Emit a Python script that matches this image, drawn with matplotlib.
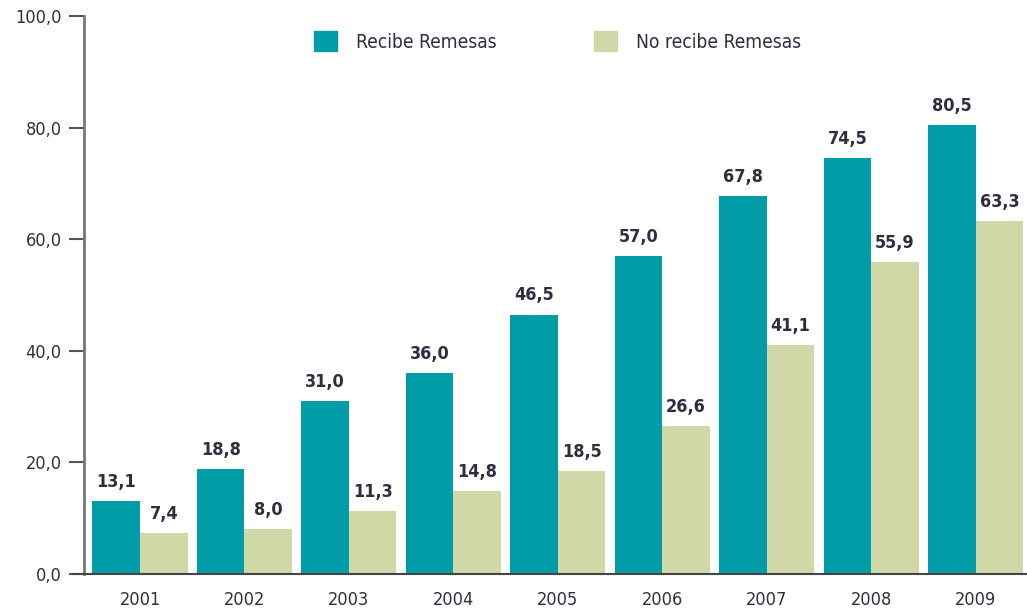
import numpy as np
import matplotlib.pyplot as plt
from matplotlib.patches import Patch

plt.rcParams['font.family'] = ['Liberation Sans Narrow', 'DejaVu Sans']
plt.rcParams['font.stretch'] = 'condensed'

# data
years = ['2001', '2002', '2003', '2004', '2005', '2006', '2007', '2008', '2009']
recibe = [13.1, 18.8, 31.0, 36.0, 46.5, 57.0, 67.8, 74.5, 80.5]
no_recibe = [7.4, 8.0, 11.3, 14.8, 18.5, 26.6, 41.1, 55.9, 63.3]

teal = '#009ca8'
sage = '#d1d8a8'
txt = '#2e2e40'

fig = plt.figure(figsize=(10.27, 6.09), dpi=100)
ax = fig.add_axes([0.0818, 0.0575, 0.9182, 0.9162])

x = np.arange(len(years))
w = 0.455
b1 = ax.bar(x - w / 2, recibe, w, color=teal)
b2 = ax.bar(x + w / 2, no_recibe, w, color=sage)

def fmt(v):
    return f'{v:.1f}'.replace('.', ',')

for bars, vals in ((b1, recibe), (b2, no_recibe)):
    for r, v in zip(bars, vals):
        ax.text(r.get_x() + r.get_width() / 2, v + 1.8, fmt(v),
                ha='center', va='bottom', fontsize=13, fontweight='bold', color=txt)

ax.set_xlim(-0.536, 8.49)
ax.set_ylim(0, 100)
ax.set_yticks(np.arange(0, 101, 20))
ax.set_yticklabels([fmt(t) for t in np.arange(0, 101, 20)], fontsize=13, color=txt)
ax.set_xticks(x)
ax.set_xticklabels(years, fontsize=13, color=txt)
ax.tick_params(axis='x', length=0, pad=12)
ax.tick_params(axis='y', length=11, width=1.5, color='#555555', pad=5)

for s in ('top', 'right'):
    ax.spines[s].set_visible(False)
ax.spines['left'].set_color('#777777')
ax.spines['left'].set_linewidth(2)
ax.spines['bottom'].set_color('#444444')
ax.spines['bottom'].set_linewidth(1.5)
ax.spines['bottom'].set_bounds(-0.64, 8.49)

handles = [Patch(color=teal, label='Recibe Remesas'),
           Patch(color=sage, label='No recibe Remesas')]
leg = fig.legend(handles=handles, loc='center', bbox_to_anchor=(0.543, 0.932),
                 ncol=2, frameon=False, fontsize=13.8, handlelength=1.2,
                 handleheight=1.2, handletextpad=1.0, columnspacing=5.1)
for t in leg.get_texts():
    t.set_color(txt)

fig.savefig('out.png', dpi=100)
